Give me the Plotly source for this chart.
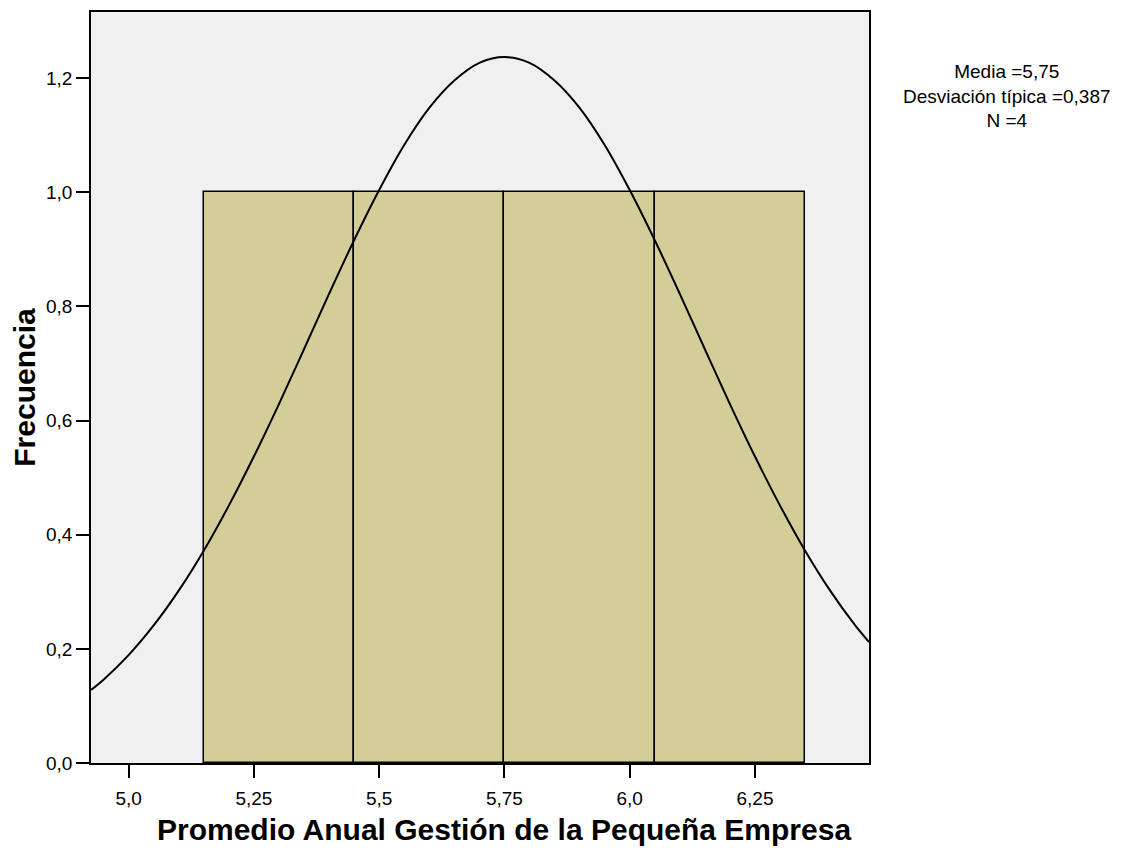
import plotly.graph_objects as go

# histogram bins (centres) and frequencies
bin_centers = [5.30, 5.60, 5.90, 6.20]
bin_counts = [1, 1, 1, 1]
bin_width = 0.3

# normal curve, values
curve_x = [4.925, 4.95, 5.00, 5.05, 5.10, 5.15, 5.20, 5.25, 5.30, 5.35, 5.40,
           5.45, 5.50, 5.55, 5.60, 5.65, 5.70, 5.75, 5.80, 5.85, 5.90, 5.95,
           6.00, 6.05, 6.10, 6.15, 6.20, 6.25, 6.30, 6.35, 6.40, 6.45, 6.4775]
curve_y = [0.128, 0.146, 0.189, 0.241, 0.302, 0.372, 0.451, 0.537, 0.629, 0.725, 0.822,
           0.916, 1.004, 1.083, 1.148, 1.196, 1.227, 1.237, 1.227, 1.196, 1.148, 1.083,
           1.004, 0.916, 0.822, 0.725, 0.629, 0.537, 0.451, 0.372, 0.302, 0.241, 0.212]

x_ticks = [5.0, 5.25, 5.5, 5.75, 6.0, 6.25]
x_labels = ["5,0", "5,25", "5,5", "5,75", "6,0", "6,25"]
y_ticks = [0.0, 0.2, 0.4, 0.6, 0.8, 1.0, 1.2]
y_labels = ["0,0", "0,2", "0,4", "0,6", "0,8", "1,0", "1,2"]

stats_text = "Media =5,75<br>Desviación típica =0,387<br>N =4"
x_title = "<b>Promedio Anual Gestión de la Pequeña Empresa</b>"

fig = go.Figure()

fig.add_trace(go.Bar(
    x=bin_centers,
    y=bin_counts,
    width=bin_width,
    marker=dict(color="#d3ce98", line=dict(color="black", width=1.5)),
    showlegend=False,
))

fig.add_trace(go.Scatter(
    x=curve_x,
    y=curve_y,
    mode="lines",
    line=dict(color="black", width=2, shape="spline"),
    showlegend=False,
))

# summary stats to the right of the plot
fig.add_annotation(
    text=stats_text,
    xref="paper", yref="paper",
    x=1.177, y=0.938,
    xanchor="center", yanchor="top",
    showarrow=False,
    align="center",
    font=dict(family="Liberation Sans, Arial", size=19, color="black"),
)

# x axis title sits a bit right of the plot centre in the original
fig.add_annotation(
    text=x_title,
    xref="paper", yref="paper",
    x=0.531, y=-0.089,
    xanchor="center", yanchor="middle",
    showarrow=False,
    font=dict(family="Liberation Sans, Arial", size=30, color="black"),
)

# page has an 8px body margin, so the figure is sized a bit smaller
fig.update_layout(
    width=1127,
    height=859,
    margin=dict(l=83, r=266, t=2, b=104),
    paper_bgcolor="white",
    plot_bgcolor="#f0f0f0",
    bargap=0,
    font=dict(family="Liberation Sans, Arial", size=19, color="black"),
)

fig.update_xaxes(
    range=[4.925, 6.4775],
    tickvals=x_ticks,
    ticktext=x_labels,
    ticks="outside",
    ticklen=13,
    tickwidth=1.5,
    tickcolor="black",
    ticklabelstandoff=4,
    showgrid=False,
    zeroline=False,
    showline=True,
    linecolor="black",
    linewidth=1.5,
    mirror=True,
)

fig.update_yaxes(
    range=[0, 1.316],
    tickvals=y_ticks,
    ticktext=y_labels,
    ticks="outside",
    ticklen=13,
    tickwidth=1.5,
    tickcolor="black",
    showgrid=False,
    zeroline=False,
    showline=True,
    linecolor="black",
    linewidth=1.5,
    mirror=True,
    title=dict(
        text="<b>Frecuencia</b>",
        font=dict(family="Liberation Sans, Arial", size=30),
        standoff=4,
    ),
)

fig.write_html("out.html")
